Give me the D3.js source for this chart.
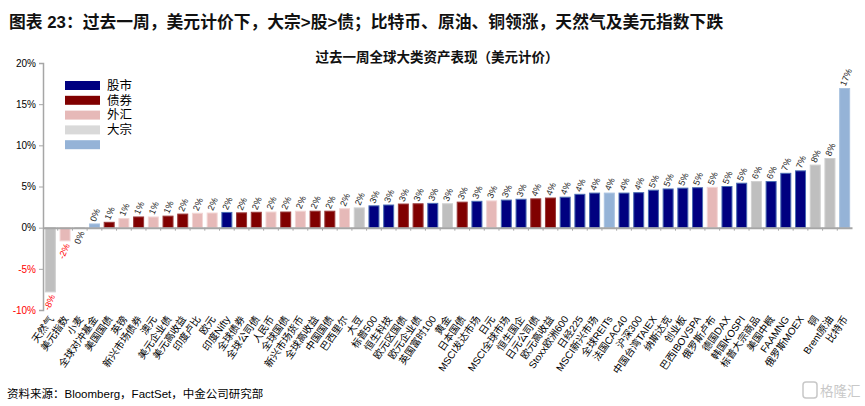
<!DOCTYPE html>
<html><head><meta charset="utf-8">
<script src="https://cdn.jsdelivr.net/npm/d3@7/dist/d3.min.js"></script>
<style>
body{margin:0;background:#fff;}
svg{font-family:"Liberation Sans","Noto Sans CJK SC",sans-serif;}
</style></head><body>
<svg id="c" width="865" height="406"></svg>
<script>
const categories = ["天然气","美元指数","小麦","全球对冲基金","美国国债","英镑","新兴市场债券","澳元","美元企业债","美元高收益","印度卢比","欧元","印度Nifty","全球债券","全球公司债","人民币","全球国债","新兴市场货币","全球高收益","中国国债","巴西里尔","大豆","标普500","恒生科技","欧元区国债","欧元企业债","英国富时100","黄金","日本国债","MSCI发达市场","日元","MSCI全球市场","恒生国企","日元公司债","欧元高收益","Stoxx欧洲600","日经225","MSCI新兴市场","全球REITs","法国CAC40","沪深300","中国台湾TAIEX","纳斯达克","创业板","巴西IBOVSPA","俄罗斯卢布","德国DAX","韩国KOSPI","标普大宗商品","美国中概","FAAMNG","俄罗斯MOEX","铜","Brent原油","比特币"];
const values = [-7.8,-1.6,-0.1,0.45,0.65,1.1,1.3,1.3,1.4,1.65,1.75,1.78,1.85,1.8,1.87,1.9,1.9,2.0,2.0,2.0,2.3,2.4,2.65,2.75,2.87,2.9,2.95,2.9,3.1,3.2,3.25,3.35,3.45,3.5,3.6,3.7,4.05,4.2,4.2,4.2,4.25,4.55,4.7,4.8,4.85,4.9,5.0,5.4,5.6,5.6,6.6,6.9,7.6,8.4,16.9];
const groups = ["c","f","c","o","b","f","b","f","b","b","f","f","e","b","b","f","b","f","b","b","f","c","e","e","b","b","e","c","b","e","f","e","e","b","b","e","e","e","o","e","e","e","e","e","e","f","e","e","c","e","e","e","c","c","o"];
const legendKeys = ["e","b","f","c","o"];
const legendLabels = ["股市","债券","外汇","大宗",""];
const yTicks = [-10,-5,0,5,10,15,20];

const fill = {e:"#000080", b:"#800000", f:"#E6B9B8", c:"#BFBFBF", o:"#95B3D7"};
const legendFill = {e:"#000080", b:"#800000", f:"#E6B9B8", c:"#D9D9D9", o:"#95B3D7"};
const stroke = {e:"#4A6CB3", b:"#9A3A3A", f:"#F2D6D5", c:"#D0D0D0", o:"#A9C2E0"};

const svg = d3.select("#c");
const x = d3.scaleBand().domain(categories).range([43,852]).paddingInner(0.32).paddingOuter(0.16);
const y = d3.scaleLinear().domain([-10,20]).range([310,63]);

// title
svg.append("text").attr("x",9).attr("y",28).attr("font-size",16.8).attr("font-weight","bold").attr("fill","#111")
  .text("图表 23：过去一周，美元计价下，大宗>股>债；比特币、原油、铜领涨，天然气及美元指数下跌");
svg.append("text").attr("x",437).attr("y",62).attr("text-anchor","middle").attr("font-size",13.5).attr("font-weight","bold").attr("fill","#111")
  .text("过去一周全球大类资产表现（美元计价）");

// y axis
const yAxis = d3.axisLeft(y).tickValues(yTicks).tickSize(4).tickFormat(d=>d+"%");
const ga = svg.append("g").attr("transform","translate(43,0)").call(yAxis);
ga.select(".domain").attr("stroke","#A6A6A6").attr("stroke-width",1.5);
ga.selectAll(".tick line").attr("stroke","#A6A6A6");
ga.selectAll(".tick text").attr("font-size",10).attr("font-family","Liberation Sans, sans-serif")
  .attr("fill",d=>d<0?"#FF0000":"#000").attr("x",-7);

// bars
const data = categories.map((c,i)=>({c,v:values[i],g:groups[i]}));
svg.append("g").selectAll("rect").data(data).join("rect")
  .attr("x",d=>x(d.c)).attr("width",x.bandwidth())
  .attr("y",d=>y(Math.max(0,d.v))).attr("height",d=>Math.abs(y(d.v)-y(0)))
  .attr("fill",d=>fill[d.g]).attr("stroke",d=>stroke[d.g]).attr("stroke-width",1);

// zero line with category ticks
const xAxis = d3.axisBottom(x).tickSize(0).tickFormat("");
const gz = svg.append("g").attr("transform",`translate(0,${y(0)})`).call(xAxis);
gz.select(".domain").attr("stroke","#A6A6A6").attr("stroke-width",2);
svg.append("g").selectAll("line").data(categories.slice(1)).join("line")
  .attr("x1",d=>x(d)-x.step()*x.paddingInner()/2).attr("x2",d=>x(d)-x.step()*x.paddingInner()/2)
  .attr("y1",y(0)).attr("y2",y(0)+3).attr("stroke","#A6A6A6");

// data labels
svg.append("g").selectAll("text").data(data).join("text")
  .attr("transform",d=>{
    const cx = x(d.c)+x.bandwidth()/2;
    return d.v>=0 ? `translate(${cx-2},${y(d.v)-3}) rotate(-68)` : `translate(${cx+2},${y(d.v)+3}) rotate(-68)`;
  })
  .attr("text-anchor",d=>d.v>=0?"start":"end").attr("dy","0.35em")
  .attr("font-size",9).attr("fill",d=>Math.round(d.v)<0?"#FF0000":"#222")
  .text(d=>Math.round(d.v)+"%");

// category labels
svg.append("g").selectAll("text").data(categories).join("text")
  .attr("transform",d=>`translate(${x(d)+x.bandwidth()/2+1},${317}) rotate(-55)`)
  .attr("text-anchor","end").attr("dy","0.35em").attr("font-size",10).attr("fill","#000")
  .text(d=>d);

// legend
const lg = svg.append("g");
legendKeys.forEach((k,i)=>{
  const yy = 81 + i*14.8;
  lg.append("rect").attr("x",65).attr("y",yy).attr("width",35).attr("height",9).attr("fill",legendFill[k]);
  lg.append("text").attr("x",107).attr("y",yy+4.5).attr("dy","0.35em").attr("font-size",12.5).attr("fill","#000").text(legendLabels[i]);
});

// source
svg.append("text").attr("x",7).attr("y",398).attr("font-size",11.5).attr("fill","#000")
  .text("资料来源：Bloomberg，FactSet，中金公司研究部");
// watermark
svg.append("rect").attr("x",803).attr("y",382).attr("width",14).attr("height",16).attr("rx",3).attr("fill","none").attr("stroke","#C8C8C8").attr("stroke-width",1.5);
svg.append("text").attr("x",820).attr("y",396).attr("font-size",13.5).attr("fill","#C8C8C8").text("格隆汇");
</script>
</body></html>
